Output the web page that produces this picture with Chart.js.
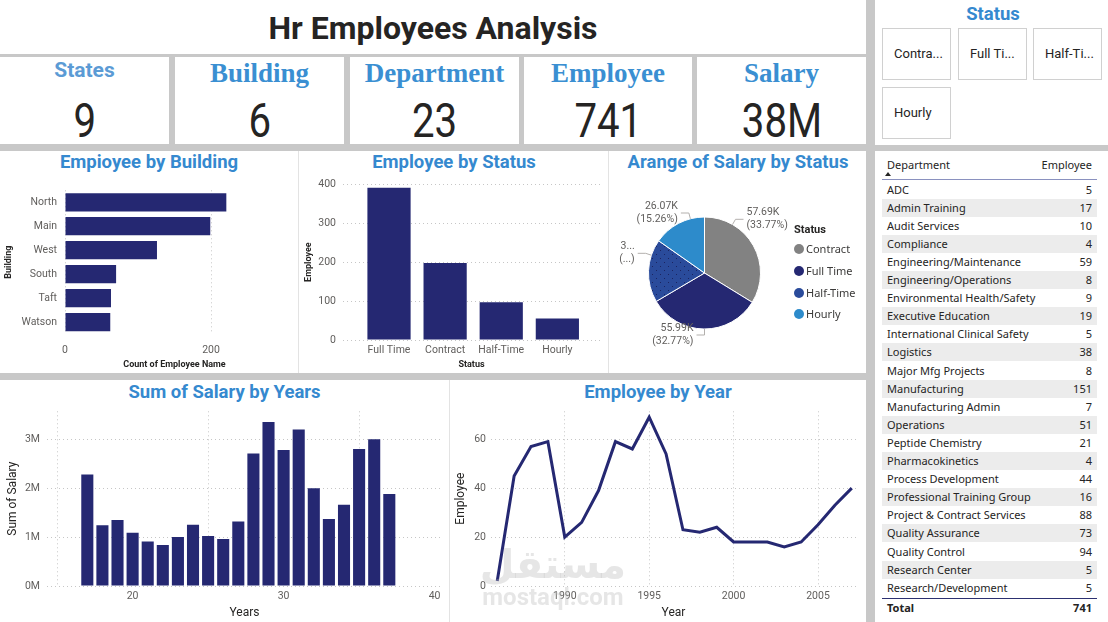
<!DOCTYPE html>
<html><head><meta charset="utf-8"><title>Hr Employees Analysis</title>
<script src="https://cdn.jsdelivr.net/npm/chart.js@4.4.1/dist/chart.umd.min.js"></script>
<style>
*{box-sizing:border-box}
html,body{margin:0;padding:0}
body{width:1108px;height:622px;background:#c8c8c8;position:relative;overflow:hidden;font-family:Roboto,sans-serif}
.panel{position:absolute;background:#fff}
.ctitle{position:absolute;font:bold 18.5px Roboto,sans-serif;color:#3589cf;text-align:center;line-height:24px;height:24px;white-space:nowrap}
.kl{position:absolute;text-align:center;white-space:nowrap;height:30px;line-height:30px}
.kv{position:absolute;text-align:center;font:400 49px Roboto,sans-serif;color:#252423;line-height:50px;height:50px}
.kv span{display:inline-block;transform:scaleX(0.82)}
.btn{position:absolute;width:69px;height:52px;border:1.5px solid #d0d0d0;background:#fff;font:400 13px Roboto,sans-serif;color:#252423;padding-left:11px;line-height:49px;white-space:nowrap;overflow:hidden}
.row{position:absolute;left:882px;width:215px;height:18.1px;font:11px 'Noto Sans',sans-serif;color:#252423;line-height:18px}
.row .d{position:absolute;left:5px;top:0}
.row .n{position:absolute;right:5px;top:0}
.vsep{position:absolute;width:1px;background:#e3e3e3}
canvas{position:absolute}
.leg{position:absolute;font:11px 'Noto Sans',sans-serif;color:#3b3a39;line-height:14px;white-space:nowrap}
.leg i{position:absolute;left:-12px;top:2px;width:10px;height:10px;border-radius:50%}
</style></head>
<body>
<div class="panel" style="left:0;top:0;width:866px;height:54px"></div>
<div id="mainTitle" style="position:absolute;left:0;top:8px;width:866px;text-align:center;font:bold 32px Roboto,sans-serif;color:#252423;line-height:40px">Hr Employees Analysis</div>
<div id="kpis"></div>
<div class="panel" style="left:875px;top:0;width:233px;height:145px"></div>
<div class="ctitle" style="left:875px;top:2px;width:236px">Status</div>
<div id="slicer"></div>

<div class="panel" style="left:0;top:151px;width:866px;height:222px"></div>
<div class="vsep" style="left:298px;top:151px;height:222px"></div>
<div class="vsep" style="left:608px;top:151px;height:222px"></div>
<div class="panel" style="left:0;top:380px;width:866px;height:242px"></div>
<div class="vsep" style="left:449px;top:380px;height:242px"></div>
<div class="panel" style="left:875px;top:151px;width:233px;height:471px"></div>

<div class="ctitle" style="left:0;top:150px;width:298px">Empioyee by Building</div>
<div class="ctitle" style="left:300px;top:150px;width:308px">Employee by Status</div>
<div class="ctitle" style="left:610px;top:150px;width:256px">Arange of Salary by Status</div>
<div class="ctitle" style="left:0;top:380px;width:449px">Sum of Salary by Years</div>
<div class="ctitle" style="left:450px;top:380px;width:416px">Employee by Year</div>

<canvas id="cBuilding" width="297" height="196" style="left:0;top:176px"></canvas>
<canvas id="cStatus" width="307" height="196" style="left:300px;top:176px"></canvas>
<canvas id="cPie" width="256" height="196" style="left:610px;top:176px"></canvas>
<canvas id="cSalary" width="447" height="218" style="left:0;top:404px"></canvas>
<canvas id="cYear" width="416" height="218" style="left:450px;top:404px"></canvas>
<div id="pieLegend"></div>

<div style="position:absolute;left:470px;top:543px;width:166px;text-align:center;pointer-events:none;color:rgba(190,190,190,0.38)">
  <div style="font:bold 40px 'DejaVu Sans',sans-serif;line-height:42px">مستقل</div>
  <div style="font:bold 24px Roboto,sans-serif;line-height:25px">mostaql.com</div>
</div>

<div id="table"></div>

<script>
// ---------- data ----------
const kpiLabels = ['States', 'Building', 'Department', 'Employee', 'Salary'];
const kpiValues = ['9', '6', '23', '741', '38M'];
const slicerLabels = ['Contra...', 'Full Ti...', 'Half-Ti...', 'Hourly'];

const buildings = ['North', 'Main', 'West', 'South', 'Taft', 'Watson'];
const buildingCounts = [221, 199, 126, 70, 63, 62];
const buildingTicks = [0, 200];

const statuses = ['Full Time', 'Contract', 'Half-Time', 'Hourly'];
const statusCounts = [391, 198, 97, 55];
const statusTicks = [0, 100, 200, 300, 400];

const pieStatuses = ['Contract', 'Full Time', 'Half-Time', 'Hourly'];
const pieSalary = [57690, 55990, 31100, 26070];

const salaryYears = [17, 18, 19, 20, 21, 22, 23, 24, 25, 26, 27, 28, 29, 30, 31, 32, 33, 34, 35, 36, 37];
const salarySums = [2.28e6, 1.24e6, 1.35e6, 1.09e6, 0.91e6, 0.84e6, 1.00e6, 1.25e6, 1.02e6, 0.96e6, 1.32e6,
                    2.71e6, 3.35e6, 2.78e6, 3.20e6, 2.00e6, 1.37e6, 1.66e6, 2.80e6, 3.00e6, 1.88e6];
const salaryXTicks = [20, 30, 40];
const salaryYTicks = [0, 1e6, 2e6, 3e6];

const hireYears = [1986, 1987, 1988, 1989, 1990, 1991, 1992, 1993, 1994, 1995, 1996, 1997, 1998, 1999, 2000, 2001, 2002, 2003, 2004, 2005, 2006, 2007];
const hireCounts = [2, 45, 57, 59, 20, 26, 39, 59, 56, 69, 54, 23, 22, 24, 18, 18, 18, 16, 18, 25, 33, 40];
const yearXTicks = [1990, 1995, 2000, 2005];
const yearYTicks = [0, 20, 40, 60];

const departments = ['ADC', 'Admin Training', 'Audit Services', 'Compliance', 'Engineering/Maintenance', 'Engineering/Operations',
  'Environmental Health/Safety', 'Executive Education', 'International Clinical Safety', 'Logistics', 'Major Mfg Projects',
  'Manufacturing', 'Manufacturing Admin', 'Operations', 'Peptide Chemistry', 'Pharmacokinetics', 'Process Development',
  'Professional Training Group', 'Project & Contract Services', 'Quality Assurance', 'Quality Control', 'Research Center',
  'Research/Development'];
const deptCounts = [5, 17, 10, 4, 59, 8, 9, 19, 5, 38, 8, 151, 7, 51, 21, 4, 44, 16, 88, 73, 94, 5, 5];

// ---------- style ----------
const NAVY = '#252872';
const GRID = '#c6c6c6';
const TICK = '#605e5c';
const DARK = '#252423';
const pieColors = ['#828282', NAVY, '#2a4b9b', '#2d8bcb'];

Chart.defaults.font.family = 'Roboto, sans-serif';
Chart.defaults.color = TICK;
Chart.defaults.animation = false;

// ---------- KPI cards ----------
const cardX = [[0, 169], [175, 344], [350, 519], [524, 692], [697, 866]];
const kpiHost = document.getElementById('kpis');
kpiLabels.forEach((lab, i) => {
  const [x0, x1] = cardX[i];
  const card = document.createElement('div');
  card.className = 'panel';
  card.style.cssText = `left:${x0}px;top:57px;width:${x1 - x0}px;height:87px`;
  kpiHost.appendChild(card);
  const l = document.createElement('div');
  l.className = 'kl';
  l.textContent = lab;
  l.style.left = x0 + 'px'; l.style.width = (x1 - x0) + 'px';
  if (i === 0) { l.style.top = '58px'; l.style.font = 'bold 21px Roboto, sans-serif'; l.style.color = '#5b9bd5'; }
  else { l.style.top = '58px'; l.style.font = 'bold 27px "Liberation Serif", serif'; l.style.color = '#3a8fd2'; }
  kpiHost.appendChild(l);
  const v = document.createElement('div');
  v.className = 'kv';
  v.innerHTML = '<span></span>';
  v.firstChild.textContent = kpiValues[i];
  v.style.left = x0 + 'px'; v.style.width = (x1 - x0) + 'px'; v.style.top = '96px';
  kpiHost.appendChild(v);
});

// ---------- slicer ----------
const mctx = document.createElement('canvas').getContext('2d');
function fitText(text, font, maxW) {
  mctx.font = font;
  if (mctx.measureText(text).width <= maxW) return text;
  for (let n = text.length - 1; n > 0; n--) {
    const s = text.slice(0, n) + '...';
    if (mctx.measureText(s).width <= maxW) return s;
  }
  return '...';
}
const btnPos = [[882, 28], [958, 28], [1033, 28], [882, 87]];
const slicerHost = document.getElementById('slicer');
slicerLabels.forEach((s, i) => {
  const b = document.createElement('div');
  b.className = 'btn';
  b.style.left = btnPos[i][0] + 'px'; b.style.top = btnPos[i][1] + 'px';
  b.textContent = s;
  slicerHost.appendChild(b);
});

// ---------- table ----------
const tHost = document.getElementById('table');
tHost.innerHTML =
  '<div class="row" style="top:156px;height:18px"><span class="d">Department</span><span class="n">Employee</span></div>' +
  '<div style="position:absolute;left:885px;top:172px;width:0;height:0;border-left:3.5px solid transparent;border-right:3.5px solid transparent;border-bottom:4px solid #252423"></div>' +
  '<div style="position:absolute;left:882px;top:179px;width:215px;height:1px;background:#8a91bf"></div>';
departments.forEach((d, i) => {
  const r = document.createElement('div');
  r.className = 'row';
  r.style.top = (180.5 + i * 18.1) + 'px';
  if (i % 2 === 1) r.style.background = '#ececec';
  r.innerHTML = '<span class="d"></span><span class="n"></span>';
  r.children[0].textContent = d;
  r.children[1].textContent = deptCounts[i];
  tHost.appendChild(r);
});
const totalRow = document.createElement('div');
totalRow.className = 'row';
totalRow.style.top = '598px';
totalRow.style.fontWeight = 'bold';
totalRow.style.borderTop = '1px solid #2c3070';
totalRow.innerHTML = '<span class="d">Total</span><span class="n"></span>';
totalRow.children[1].textContent = deptCounts.reduce((a, b) => a + b, 0);
tHost.appendChild(totalRow);

// ---------- helpers ----------
const fixedTicks = vals => scale => { scale.ticks = vals.map(v => ({ value: v })); };
const fitH = h => s => { s.height = h; s.paddingLeft = 0; s.paddingRight = 0; };
const fitW = w => s => { s.width = w; s.paddingTop = 0; s.paddingBottom = 0; };
const dotted = { display: false, dash: [1, 3] };
const gridOn = { color: GRID, drawTicks: false, lineWidth: 1 };
const gridOff = { display: false, drawTicks: false };
const axisTitle = (text, size, weight, pad) => ({ display: true, text, color: DARK, font: { size, weight }, padding: pad });
const tk = (pad, extra) => Object.assign({ padding: pad, font: { size: 10.5 }, color: TICK, maxRotation: 0, minRotation: 0, autoSkip: false }, extra || {});
const noPlug = { legend: { display: false }, tooltip: { enabled: false } };

// ---------- Employee by Building ----------
new Chart(document.getElementById('cBuilding'), {
  type: 'bar',
  data: { labels: buildings, datasets: [{ data: buildingCounts, backgroundColor: NAVY, barPercentage: 0.76, categoryPercentage: 1 }] },
  options: {
    indexAxis: 'y', responsive: false, animation: false,
    layout: { padding: { top: 14.3, right: 13 } },
    plugins: noPlug,
    scales: {
      x: {
        min: 0, max: 300, afterBuildTicks: fixedTicks(buildingTicks), afterFit: fitH(38),
        grid: gridOn, border: dotted, ticks: tk(10),
        title: axisTitle('Count of Employee Name', 9, 'bold', { top: 0, bottom: 2 })
      },
      y: {
        afterFit: fitW(65), grid: gridOff, border: { display: false }, ticks: tk(8),
        title: axisTitle('Building', 9, 'bold', { top: 3, bottom: 0 })
      }
    }
  }
});

// ---------- Employee by Status ----------
new Chart(document.getElementById('cStatus'), {
  type: 'bar',
  data: { datasets: [{ data: statuses.map((s, i) => ({ x: i, y: statusCounts[i] })), backgroundColor: NAVY, barPercentage: 0.77, categoryPercentage: 1 }] },
  options: {
    responsive: false, animation: false,
    layout: { padding: { top: 8.3, right: 7 } },
    plugins: noPlug,
    scales: {
      x: {
        type: 'linear', offset: false, min: -0.82, max: 3.76,
        afterBuildTicks: fixedTicks(statuses.map((s, i) => i)), afterFit: fitH(32),
        grid: gridOff, border: { display: false },
        ticks: tk(4, { callback: v => statuses[v] }),
        title: axisTitle('Status', 9, 'bold', { top: 0, bottom: 2 })
      },
      y: {
        min: 0, max: 400, afterBuildTicks: fixedTicks(statusTicks), afterFit: fitW(43),
        grid: gridOn, border: dotted, ticks: tk(7),
        title: axisTitle('Employee', 9, 'bold', { top: 3.5, bottom: 0 })
      }
    }
  }
});

// ---------- Pie ----------
function dotPattern(base, dot) {
  const c = document.createElement('canvas'); c.width = 8; c.height = 8;
  const x = c.getContext('2d');
  x.fillStyle = base; x.fillRect(0, 0, 8, 8);
  x.fillStyle = dot; x.fillRect(2, 2, 1, 1); x.fillRect(6, 6, 1, 1);
  return x.createPattern(c, 'repeat');
}
const pieLabels = {
  id: 'pieLabels',
  afterDatasetsDraw(chart, args, opts) {
    const ctx = chart.ctx;
    const meta = chart.getDatasetMeta(0);
    const data = chart.data.datasets[0].data;
    const total = data.reduce((a, b) => a + b, 0);
    ctx.save();
    ctx.fillStyle = TICK;
    ctx.strokeStyle = '#b3b0ad';
    ctx.lineWidth = 1;
    meta.data.forEach((arc, i) => {
      const p = arc.getProps(['x', 'y', 'outerRadius'], true);
      const a = opts.angles[i] * Math.PI / 180;
      const sx = Math.sin(a), cy = Math.cos(a);
      const px = p.x + p.outerRadius * sx, py = p.y - p.outerRadius * cy;
      const ex = p.x + (p.outerRadius + 6) * sx, ey = p.y - (p.outerRadius + 6) * cy;
      const dir = sx > 0.01 ? 1 : -1;
      const hx = ex + dir * 8;
      ctx.beginPath(); ctx.moveTo(px, py); ctx.lineTo(ex, ey); ctx.lineTo(hx, ey); ctx.stroke();
      const tx = hx + dir * 3;
      const maxW = dir > 0 ? chart.width - 4 - tx : tx - 8;
      const val = fitText((data[i] / 1000).toFixed(2) + 'K', '10.5px Roboto', maxW);
      mctx.font = '10.5px Roboto';
      const pctRaw = (data[i] / total * 100).toFixed(2) + '%';
      const pct = '(' + fitText(pctRaw, '10.5px Roboto', maxW - mctx.measureText('()').width) + ')';
      ctx.font = '10.5px Roboto';
      ctx.textAlign = dir > 0 ? 'left' : 'right';
      ctx.textBaseline = 'middle';
      ctx.fillText(val, tx, ey - 7);
      ctx.fillText(pct, tx, ey + 6.5);
    });
    ctx.restore();
  }
};
const pieFills = pieColors.slice();
pieFills[2] = dotPattern(pieColors[2], '#1b2460');
new Chart(document.getElementById('cPie'), {
  type: 'pie',
  data: { labels: pieStatuses, datasets: [{ data: pieSalary, backgroundColor: pieFills, borderColor: '#ffffff', borderWidth: 1 }] },
  options: {
    responsive: false, animation: false, radius: 56,
    layout: { padding: { left: 0, right: 67, top: 0, bottom: 2 } },
    plugins: { legend: { display: false }, tooltip: { enabled: false }, pieLabels: { angles: [30, 180, 288.5, 345.4] } }
  },
  plugins: [pieLabels]
});
// legend
const lg = document.getElementById('pieLegend');
lg.innerHTML = '<div class="leg" style="left:794px;top:223px;font:bold 11px Roboto,sans-serif;color:#252423">Status</div>';
pieStatuses.forEach((s, i) => {
  const d = document.createElement('div');
  d.className = 'leg';
  d.style.left = '806px';
  d.style.top = (242 + i * 21.8) + 'px';
  d.innerHTML = '<i style="background:' + pieColors[i] + '"></i>';
  d.appendChild(document.createTextNode(s));
  lg.appendChild(d);
});

// ---------- Sum of Salary by Years ----------
new Chart(document.getElementById('cSalary'), {
  type: 'bar',
  data: { datasets: [{ data: salaryYears.map((y, i) => ({ x: y, y: salarySums[i] })), backgroundColor: NAVY, barPercentage: 0.8, categoryPercentage: 1 }] },
  options: {
    responsive: false, animation: false,
    layout: { padding: { top: 7.3, right: 5 } },
    plugins: noPlug,
    scales: {
      x: {
        type: 'linear', offset: false, min: 14.33, max: 40.49,
        afterBuildTicks: fixedTicks(salaryXTicks), afterFit: fitH(36),
        grid: gridOn, border: dotted, ticks: tk(4),
        title: axisTitle('Years', 12, 'normal', { top: 0, bottom: 2 })
      },
      y: {
        min: 0, max: 3.57e6, afterBuildTicks: fixedTicks(salaryYTicks), afterFit: fitW(47),
        grid: gridOn, border: dotted,
        ticks: tk(7, { callback: v => (v / 1e6) + 'M' }),
        title: axisTitle('Sum of Salary', 12, 'normal', { top: 5.5, bottom: 0 })
      }
    }
  }
});

// ---------- Employee by Year ----------
new Chart(document.getElementById('cYear'), {
  type: 'line',
  data: { datasets: [{ data: hireYears.map((y, i) => ({ x: y, y: hireCounts[i] })), borderColor: NAVY, borderWidth: 3, pointRadius: 0, tension: 0, fill: false }] },
  options: {
    responsive: false, animation: false,
    layout: { padding: { top: 7.3, right: 10 } },
    plugins: noPlug,
    scales: {
      x: {
        type: 'linear', min: 1985.63, max: 2007.25,
        afterBuildTicks: fixedTicks(yearXTicks), afterFit: fitH(36),
        grid: gridOn, border: dotted,
        ticks: tk(4, { callback: v => String(v) }),
        title: axisTitle('Year', 12, 'normal', { top: 0, bottom: 2 })
      },
      y: {
        min: 0, max: 71.4, afterBuildTicks: fixedTicks(yearYTicks), afterFit: fitW(41),
        grid: gridOn, border: dotted, ticks: tk(5),
        title: axisTitle('Employee', 12, 'normal', { top: 3.5, bottom: 0 })
      }
    }
  }
});
</script>
</body></html>
